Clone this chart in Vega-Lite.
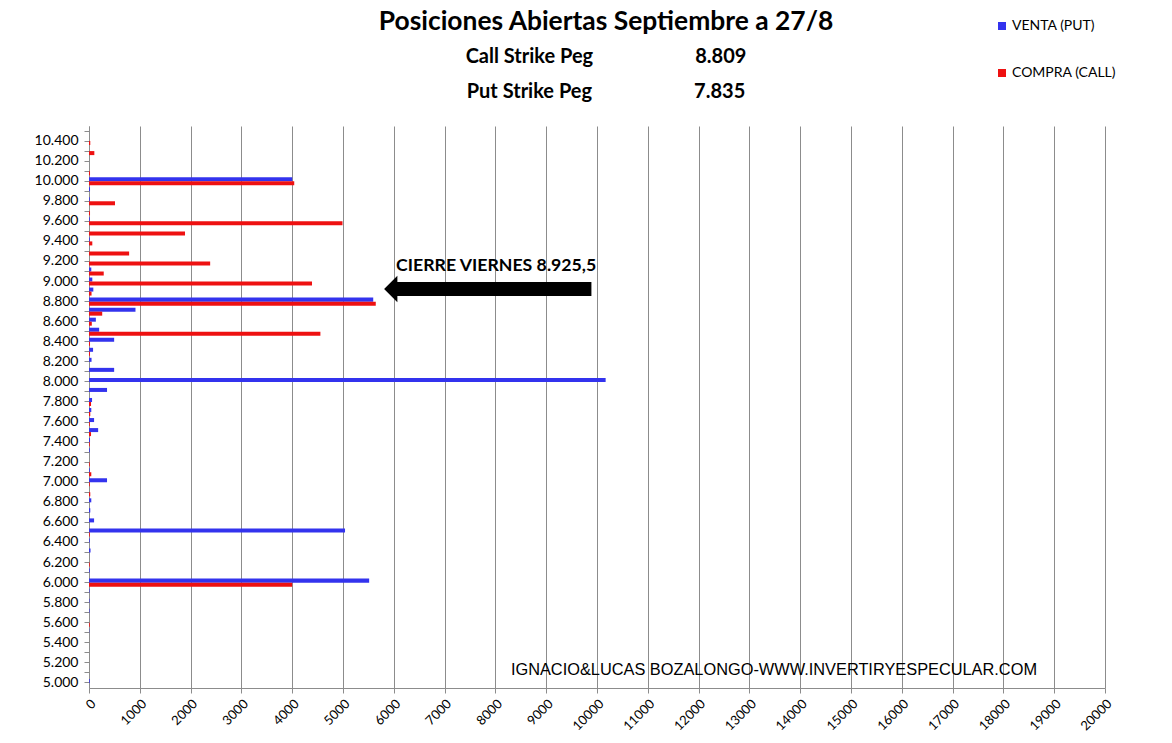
{
  "$schema": "https://vega.github.io/schema/vega-lite/v6.json",
  "autosize": "none",
  "width": 1016,
  "height": 562,
  "padding": {"left": 89, "top": 126, "right": 67, "bottom": 55},
  "background": "white",
  "title": {
    "text": "Posiciones Abiertas Septiembre a 27/8",
    "subtitle": [
      "Call Strike Peg\u00a0\u00a0\u00a0\u00a0\u00a0\u00a0\u00a0\u00a0\u00a0\u00a0\u00a0\u00a0\u00a0\u00a0\u00a0\u00a0\u00a0\u00a0\u00a0\u00a0\u00a08.809",
      "Put Strike Peg\u00a0\u00a0\u00a0\u00a0\u00a0\u00a0\u00a0\u00a0\u00a0\u00a0\u00a0\u00a0\u00a0\u00a0\u00a0\u00a0\u00a0\u00a0\u00a0\u00a0\u00a07.835"
    ],
    "anchor": "middle",
    "dx": 9,
    "font": "Lato",
    "fontSize": 26.4,
    "fontWeight": "bold",
    "color": "black",
    "subtitleFont": "Lato",
    "subtitleFontSize": 20,
    "subtitleFontWeight": "bold",
    "subtitleColor": "black",
    "subtitleLineHeight": 35,
    "subtitlePadding": 12,
    "offset": -83
  },
  "config": {
    "view": {"stroke": null},
    "font": "Lato"
  },
  "layer": [
    {
      "data": {
        "values": [
          {"strike": 10500, "put": 0, "call": 0},
          {"strike": 10400, "put": 0, "call": 25},
          {"strike": 10300, "put": 0, "call": 105},
          {"strike": 10200, "put": 0, "call": 0},
          {"strike": 10100, "put": 0, "call": 20},
          {"strike": 10000, "put": 4000, "call": 4040},
          {"strike": 9900, "put": 20, "call": 0},
          {"strike": 9800, "put": 15, "call": 512},
          {"strike": 9700, "put": 0, "call": 20},
          {"strike": 9600, "put": 15, "call": 4990},
          {"strike": 9500, "put": 0, "call": 1890},
          {"strike": 9400, "put": 15, "call": 65},
          {"strike": 9300, "put": 0, "call": 790},
          {"strike": 9200, "put": 0, "call": 2385},
          {"strike": 9100, "put": 45, "call": 290},
          {"strike": 9000, "put": 65, "call": 4390},
          {"strike": 8900, "put": 85, "call": 50},
          {"strike": 8800, "put": 5595, "call": 5645},
          {"strike": 8700, "put": 915, "call": 260},
          {"strike": 8600, "put": 135, "call": 55},
          {"strike": 8500, "put": 200, "call": 4555},
          {"strike": 8400, "put": 495, "call": 20},
          {"strike": 8300, "put": 80, "call": 20},
          {"strike": 8200, "put": 50, "call": 0},
          {"strike": 8100, "put": 495, "call": 0},
          {"strike": 8000, "put": 10170, "call": 0},
          {"strike": 7900, "put": 355, "call": 0},
          {"strike": 7800, "put": 60, "call": 40},
          {"strike": 7700, "put": 45, "call": 25},
          {"strike": 7600, "put": 100, "call": 15},
          {"strike": 7500, "put": 180, "call": 40},
          {"strike": 7400, "put": 20, "call": 15},
          {"strike": 7300, "put": 15, "call": 0},
          {"strike": 7200, "put": 0, "call": 15},
          {"strike": 7100, "put": 15, "call": 45},
          {"strike": 7000, "put": 355, "call": 15},
          {"strike": 6900, "put": 0, "call": 25},
          {"strike": 6800, "put": 45, "call": 0},
          {"strike": 6700, "put": 25, "call": 0},
          {"strike": 6600, "put": 100, "call": 0},
          {"strike": 6500, "put": 5040, "call": 15},
          {"strike": 6400, "put": 15, "call": 0},
          {"strike": 6300, "put": 30, "call": 0},
          {"strike": 6200, "put": 0, "call": 15},
          {"strike": 6100, "put": 15, "call": 0},
          {"strike": 6000, "put": 5515, "call": 4000},
          {"strike": 5900, "put": 10, "call": 0},
          {"strike": 5800, "put": 10, "call": 0},
          {"strike": 5700, "put": 10, "call": 0},
          {"strike": 5600, "put": 0, "call": 15},
          {"strike": 5500, "put": 5, "call": 0},
          {"strike": 5400, "put": 0, "call": 0},
          {"strike": 5300, "put": 0, "call": 0},
          {"strike": 5200, "put": 0, "call": 0},
          {"strike": 5100, "put": 0, "call": 0},
          {"strike": 5000, "put": 15, "call": 0}
        ]
      },
      "transform": [{"fold": ["put", "call"], "as": ["serie", "contratos"]}],
      "mark": {"type": "bar"},
      "encoding": {
        "y": {
          "field": "strike",
          "type": "ordinal",
          "sort": "descending",
          "scale": {"paddingInner": 0.2, "paddingOuter": 0.1},
          "axis": {
            "title": null,
            "labelExpr": "datum.value % 200 == 0 ? replace(format(datum.value, ','), ',', '.') : ''",
            "labelOverlap": false,
            "labelFont": "Lato",
            "labelFontSize": 14,
            "labelColor": "black",
            "labelPadding": 6,
            "tickColor": "#8c8c8c",
            "tickSize": 5,
            "domainColor": "#8c8c8c",
            "grid": false
          }
        },
        "yOffset": {
          "field": "serie",
          "type": "nominal",
          "sort": ["put", "call"],
          "scale": {"domain": ["put", "call"], "paddingInner": 0, "paddingOuter": 0}
        },
        "x": {
          "field": "contratos",
          "type": "quantitative",
          "scale": {"domain": [0, 20000], "nice": false, "zero": true},
          "axis": {
            "title": null,
            "values": [0, 1000, 2000, 3000, 4000, 5000, 6000, 7000, 8000, 9000, 10000, 11000, 12000, 13000, 14000, 15000, 16000, 17000, 18000, 19000, 20000],
            "format": "d",
            "labelAngle": -45,
            "labelFont": "Lato",
            "labelFontSize": 13,
            "labelColor": "black",
            "labelOverlap": false,
            "labelPadding": 4,
            "grid": true,
            "gridColor": "#8c8c8c",
            "gridWidth": 1,
            "gridOpacity": 1,
            "tickColor": "#8c8c8c",
            "tickSize": 5,
            "domainColor": "#8c8c8c"
          }
        },
        "color": {
          "field": "serie",
          "type": "nominal",
          "scale": {"domain": ["put", "call"], "range": ["#3333EE", "#EE1111"]},
          "legend": {
            "title": null,
            "orient": "none",
            "legendX": 906,
            "legendY": -107,
            "symbolType": "square",
            "symbolSize": 64,
            "symbolStrokeWidth": 0,
            "labelExpr": "datum.value == 'put' ? 'VENTA (PUT)' : 'COMPRA (CALL)'",
            "labelFont": "Lato",
            "labelFontSize": 14,
            "labelColor": "black",
            "rowPadding": 33,
            "labelOffset": 3
          }
        }
      }
    },
    {
      "data": {"values": [{"desde": 5990, "hasta": 9890, "nivel": 8925.5}]},
      "mark": {"type": "rule", "strokeWidth": 14, "color": "black", "strokeCap": "butt"},
      "encoding": {
        "x": {"field": "desde", "type": "quantitative"},
        "x2": {"field": "hasta"},
        "y": {"field": "nivel", "type": "quantitative", "scale": {"domain": [4950, 10550], "nice": false, "zero": false}, "axis": null}
      }
    },
    {
      "data": {"values": [{"punta": 5810, "nivel": 8925.5}]},
      "mark": {"type": "point", "shape": "M0,0L1,-1L1,1Z", "filled": true, "opacity": 1, "color": "black", "size": 700},
      "encoding": {
        "x": {"field": "punta", "type": "quantitative"},
        "y": {"field": "nivel", "type": "quantitative", "scale": {"domain": [4950, 10550], "nice": false, "zero": false}, "axis": null}
      }
    },
    {
      "data": {"values": [{"etiqueta": "CIERRE VIERNES 8.925,5", "xpos": 6045, "nivel": 9105}]},
      "mark": {"type": "text", "align": "left", "baseline": "alphabetic", "font": "Lato", "fontSize": 17.7, "fontWeight": "bold", "color": "black"},
      "encoding": {
        "x": {"field": "xpos", "type": "quantitative"},
        "y": {"field": "nivel", "type": "quantitative", "scale": {"domain": [4950, 10550], "nice": false, "zero": false}, "axis": null},
        "text": {"field": "etiqueta"}
      }
    },
    {
      "data": {"values": [{"etiqueta": "IGNACIO&LUCAS BOZALONGO-WWW.INVERTIRYESPECULAR.COM", "xpos": 8305, "nivel": 5080}]},
      "mark": {"type": "text", "align": "left", "baseline": "alphabetic", "font": "Liberation Sans", "fontSize": 16.35, "color": "black"},
      "encoding": {
        "x": {"field": "xpos", "type": "quantitative"},
        "y": {"field": "nivel", "type": "quantitative", "scale": {"domain": [4950, 10550], "nice": false, "zero": false}, "axis": null},
        "text": {"field": "etiqueta"}
      }
    }
  ],
  "resolve": {"scale": {"y": "independent"}, "axis": {"y": "independent"}}
}
